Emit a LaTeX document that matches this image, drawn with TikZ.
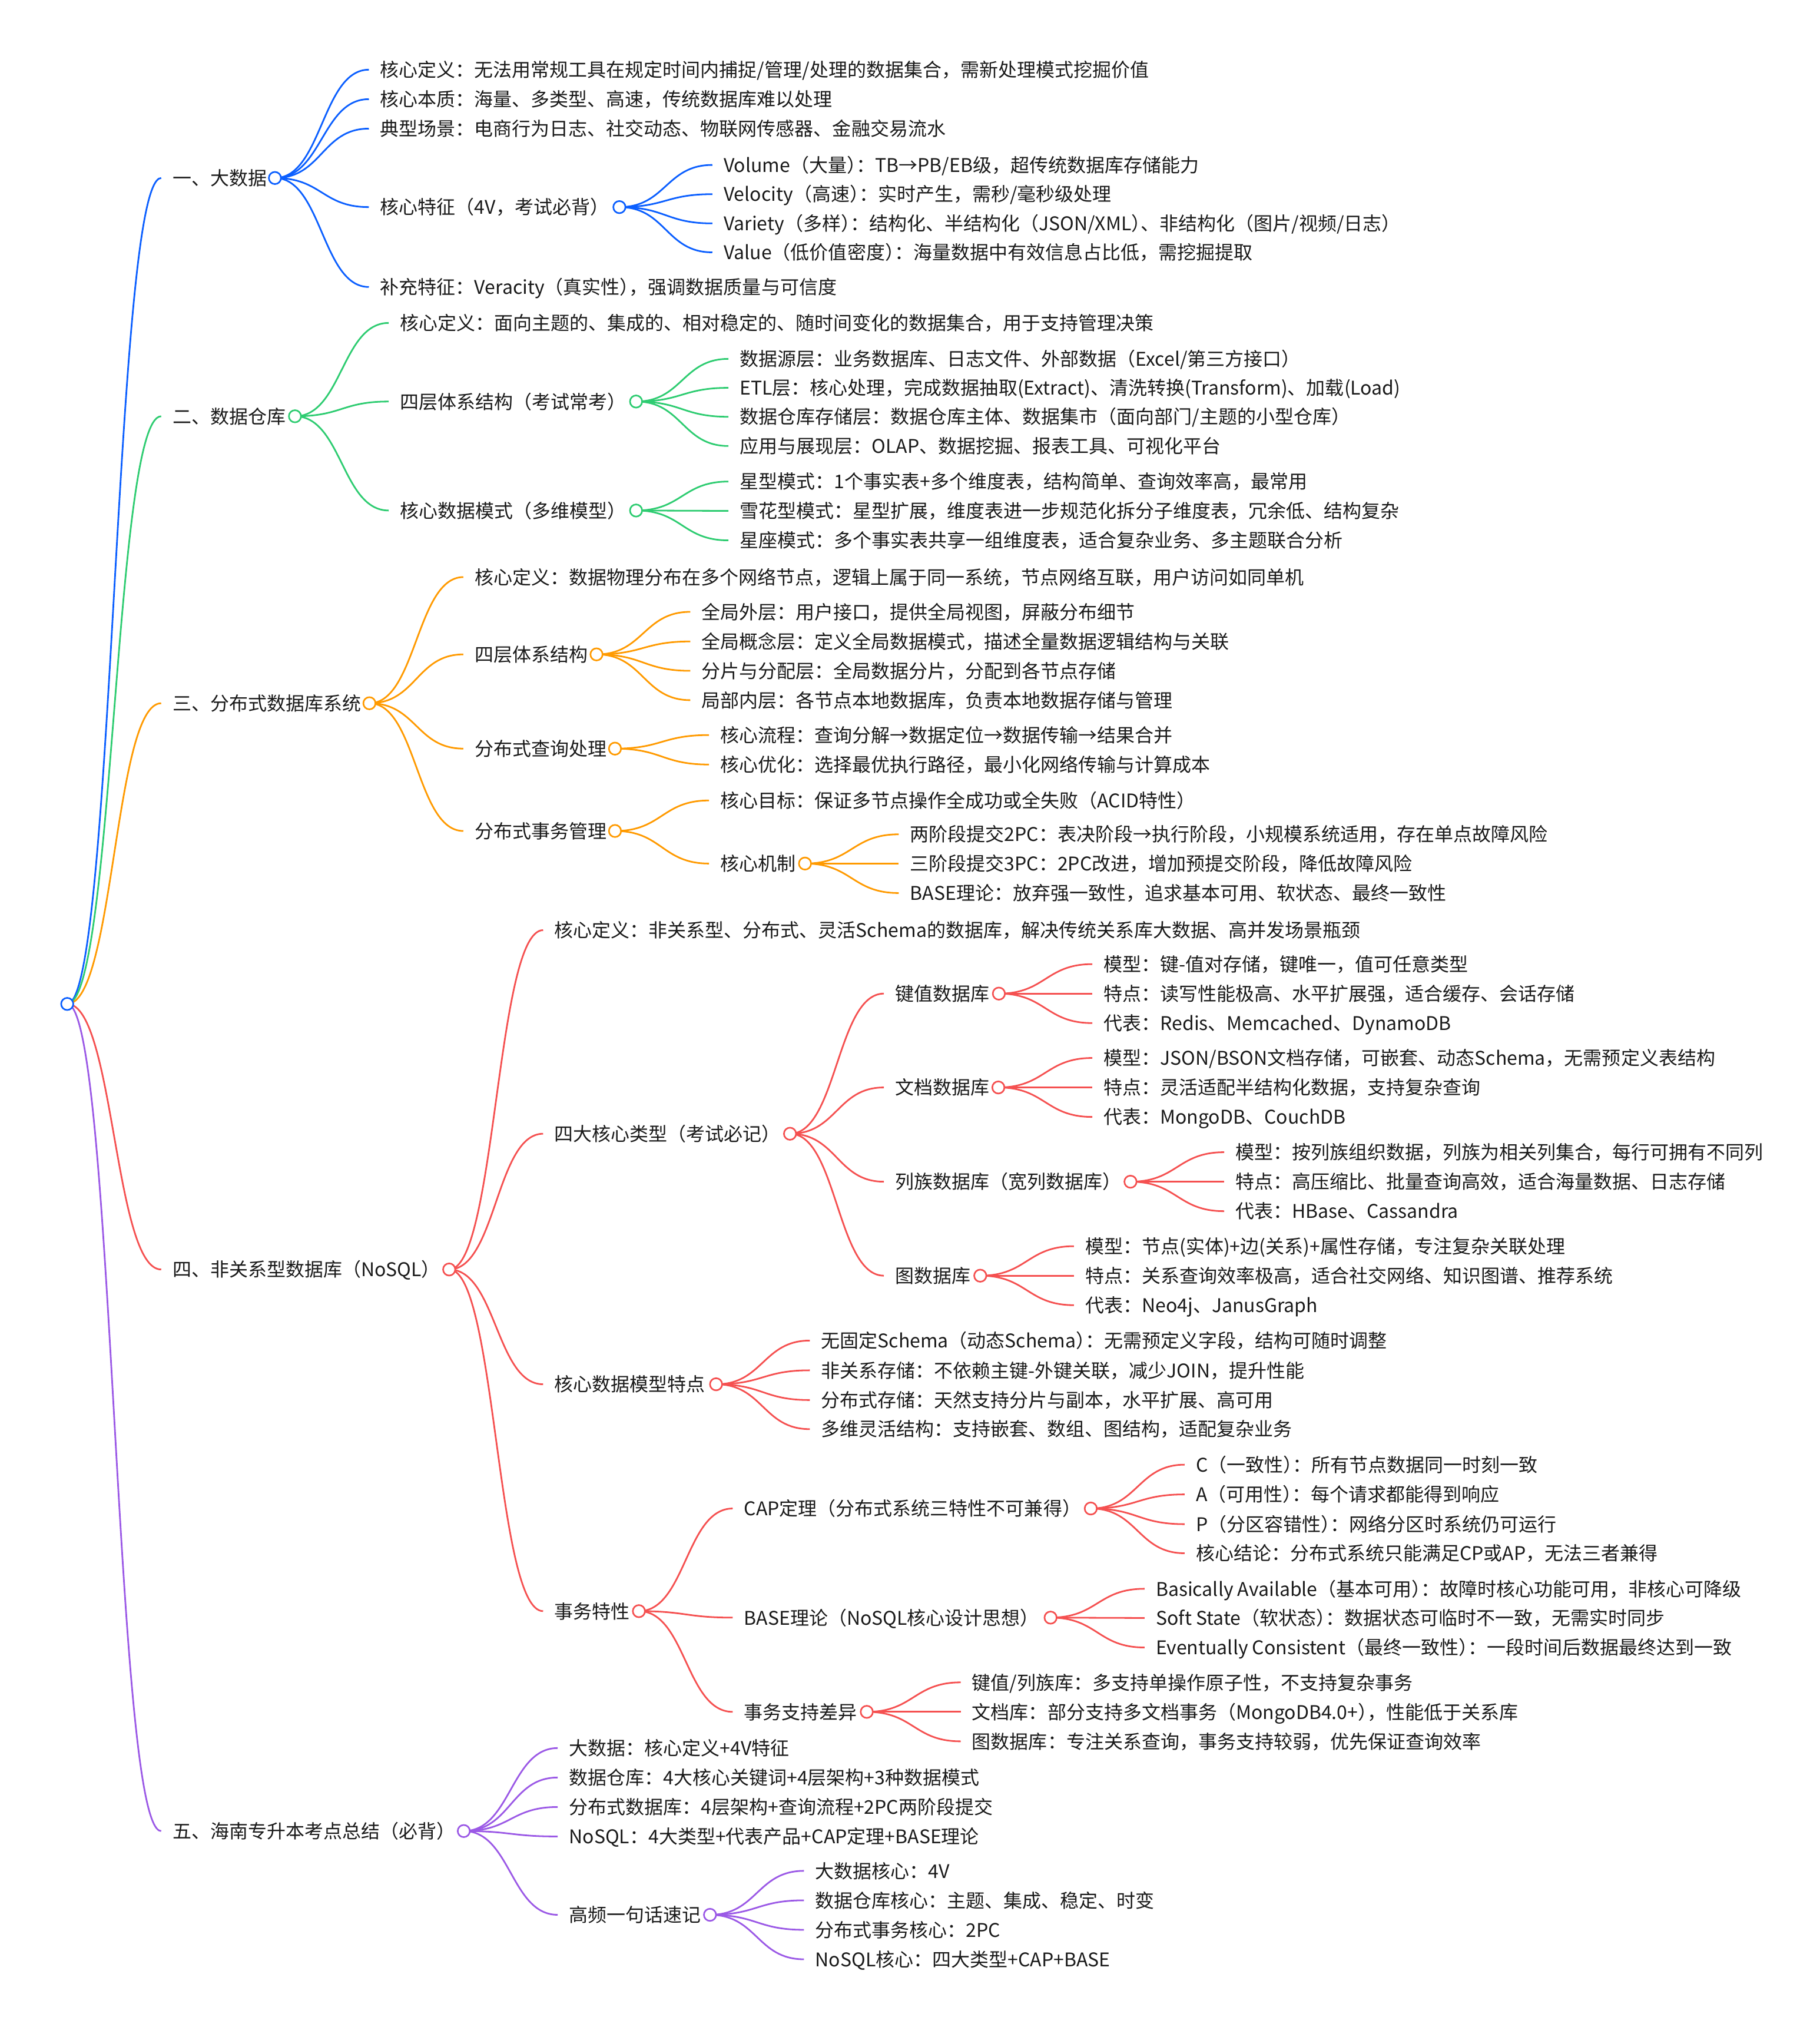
\documentclass[tikz,border=0pt]{standalone}
\usepackage{fontspec}
\setmainfont{Noto Sans CJK SC}
\usetikzlibrary{calc}
\definecolor{cb}{HTML}{0B5FFF}
\definecolor{cg}{HTML}{2ECC71}
\definecolor{co}{HTML}{FF9A00}
\definecolor{cr}{HTML}{F55050}
\definecolor{cp}{HTML}{9B59E6}
\definecolor{txt}{HTML}{1A1A1A}
\pgfdeclarelayer{bg}
\pgfsetlayers{bg,main}
\tikzset{
  txtnode/.style={anchor=west, inner sep=0pt, text height=28.2pt, text depth=3.8pt, text=txt, font=\fontsize{32}{38}\selectfont},
  bub/.style={circle, draw=#1, fill=white, line width=2.7pt, minimum size=20.6pt, inner sep=0pt},
  lk/.style={draw=#1, line width=2.8pt},
}
\newcommand\hk{\kern-0.5em}
\newcommand\mlink[3]{%
  \draw[lk=#1] let \p1=(#2.center), \p2=([xshift=-19.1pt]#3.west) in
    (\p1) .. controls ({0.5*\x1+0.5*\x2},\y1) and ({0.5*\x1+0.5*\x2},\y2) .. (\p2);}
\begin{document}
\begin{tikzpicture}[x=2.1946pt, y=-2.1946pt]
\useasboundingbox (0,0) rectangle (1408,1568);
% root
\node[bub=cb] (r) at (52,776.6) {};
% ---------- branch 1
\node[txtnode] (a) at (133.4,137.7) {一、大数据};
\node[bub=cb] (ac) at (212.7,137.7) {};
\node[txtnode] (a1) at (294.1,53.9) {核心定义：无法用常规工具在规定时间内捕捉/管理/处理的数据集合，需新处理模式挖掘价值};
\node[txtnode] (a2) at (294.1,76.7) {核心本质：海量、多类型、高速，传统数据库难以处理};
\node[txtnode] (a3) at (294.1,99.5) {典型场景：电商行为日志、社交动态、物联网传感器、金融交易流水};
\node[txtnode] (a4) at (294.1,160.2) {核心特征（4V，考试必背）};
\node[bub=cb] (a4c) at (479.2,160.2) {};
\node[txtnode] (a5) at (294.1,222) {补充特征：Veracity（真实性）\hk，强调数据质量与可信度};
\node[txtnode] (a41) at (559.8,127.6) {Volume（大量）\hk：TB→PB/EB级，超传统数据库存储能力};
\node[txtnode] (a42) at (559.8,150.2) {Velocity（高速）\hk：实时产生，需秒/毫秒级处理};
\node[txtnode] (a43) at (559.8,172.8) {Variety（多样）\hk：结构化、半结构化（JSON/XML）\hk、非结构化（图片/视频/日志）};
\node[txtnode] (a44) at (559.8,195.2) {Value（低价值密度）\hk：海量数据中有效信息占比低，需挖掘提取};
% ---------- branch 2
\node[txtnode] (b) at (133.4,322) {二、数据仓库};
\node[bub=cg] (bc) at (228.2,322) {};
\node[txtnode] (b1) at (309.4,249.8) {核心定义：面向主题的、集成的、相对稳定的、随时间变化的数据集合，用于支持管理决策};
\node[txtnode] (b2) at (309.4,310.6) {四层体系结构（考试常考）};
\node[bub=cg] (b2c) at (492.1,310.6) {};
\node[txtnode] (b3) at (309.4,394.9) {核心数据模式（多维模型）};
\node[bub=cg] (b3c) at (492.1,394.9) {};
\node[txtnode] (b21) at (572.3,277.6) {数据源层：业务数据库、日志文件、外部数据（Excel/第三方接口）};
\node[txtnode] (b22) at (572.3,300) {ETL层：核心处理，完成数据抽取(Extract)、清洗转换(Transform)、加载(Load)};
\node[txtnode] (b23) at (572.3,322.4) {数据仓库存储层：数据仓库主体、数据集市（面向部门/主题的小型仓库）};
\node[txtnode] (b24) at (572.3,345) {应用与展现层：OLAP、数据挖掘、报表工具、可视化平台};
\node[txtnode] (b31) at (572.3,372.5) {星型模式：1个事实表+多个维度表，结构简单、查询效率高，最常用};
\node[txtnode] (b32) at (572.3,395.2) {雪花型模式：星型扩展，维度表进一步规范化拆分子维度表，冗余低、结构复杂};
\node[txtnode] (b33) at (572.3,418) {星座模式：多个事实表共享一组维度表，适合复杂业务、多主题联合分析};
% ---------- branch 3
\node[txtnode] (c) at (133.4,544) {三、分布式数据库系统};
\node[bub=co] (cc) at (285.8,544) {};
\node[txtnode] (c1) at (367.2,446.4) {核心定义：数据物理分布在多个网络节点，逻辑上属于同一系统，节点网络互联，用户访问如同单机};
\node[txtnode] (c2) at (367.2,506.2) {四层体系结构};
\node[bub=co] (c2c) at (461.5,506.2) {};
\node[txtnode] (c3) at (367.2,579.1) {分布式查询处理};
\node[bub=co] (c3c) at (475.8,579.1) {};
\node[txtnode] (c4) at (367.2,642.8) {分布式事务管理};
\node[bub=co] (c4c) at (475.8,642.8) {};
\node[txtnode] (c21) at (542.8,473.3) {全局外层：用户接口，提供全局视图，屏蔽分布细节};
\node[txtnode] (c22) at (542.8,496.2) {全局概念层：定义全局数据模式，描述全量数据逻辑结构与关联};
\node[txtnode] (c23) at (542.8,518.9) {分片与分配层：全局数据分片，分配到各节点存储};
\node[txtnode] (c24) at (542.8,541.6) {局部内层：各节点本地数据库，负责本地数据存储与管理};
\node[txtnode] (c31) at (557.2,568.6) {核心流程：查询分解→数据定位→数据传输→结果合并};
\node[txtnode] (c32) at (557.2,591.4) {核心优化：选择最优执行路径，最小化网络传输与计算成本};
\node[txtnode] (c41) at (557.2,619.2) {核心目标：保证多节点操作全成功或全失败（ACID特性）};
\node[txtnode] (c42) at (557.2,668) {核心机制};
\node[bub=co] (c42c) at (622.8,668) {};
\node[txtnode] (c421) at (704,645.4) {两阶段提交2PC：表决阶段→执行阶段，小规模系统适用，存在单点故障风险};
\node[txtnode] (c422) at (704,668) {三阶段提交3PC：2PC改进，增加预提交阶段，降低故障风险};
\node[txtnode] (c423) at (704,690.8) {BASE理论：放弃强一致性，追求基本可用、软状态、最终一致性};
% ---------- branch 4
\node[txtnode] (d) at (133.4,982) {四、非关系型数据库（NoSQL）};
\node[bub=cr] (dc) at (347.5,982) {};
\node[txtnode] (d1) at (428.9,719.5) {核心定义：非关系型、分布式、灵活Schema的数据库，解决传统关系库大数据、高并发场景瓶颈};
\node[txtnode] (d2) at (428.9,877) {四大核心类型（考试必记）};
\node[bub=cr] (d2c) at (611.2,877) {};
\node[txtnode] (d3) at (428.9,1070.8) {核心数据模型特点};
\node[bub=cr] (d3c) at (554,1070.8) {};
\node[txtnode] (d4) at (428.9,1246.3) {事务特性};
\node[bub=cr] (d4c) at (494.3,1246.3) {};
\node[txtnode] (d21) at (692.5,768.6) {键值数据库};
\node[bub=cr] (d21c) at (772.8,768.6) {};
\node[txtnode] (d22) at (692.5,841.2) {文档数据库};
\node[bub=cr] (d22c) at (772.4,841.2) {};
\node[txtnode] (d23) at (692.5,914.1) {列族数据库（宽列数据库）};
\node[bub=cr] (d23c) at (874.6,914.1) {};
\node[txtnode] (d24) at (692.5,986.8) {图数据库};
\node[bub=cr] (d24c) at (758.4,986.8) {};
\node[txtnode] (d211) at (853.8,745.8) {模型：键-值对存储，键唯一，值可任意类型};
\node[txtnode] (d212) at (853.8,768.6) {特点：读写性能极高、水平扩展强，适合缓存、会话存储};
\node[txtnode] (d213) at (853.8,791.4) {代表：Redis、Memcached、DynamoDB};
\node[txtnode] (d221) at (853.8,818.4) {模型：JSON/BSON文档存储，可嵌套、动态Schema，无需预定义表结构};
\node[txtnode] (d222) at (853.8,841.2) {特点：灵活适配半结构化数据，支持复杂查询};
\node[txtnode] (d223) at (853.8,864) {代表：MongoDB、CouchDB};
\node[txtnode] (d231) at (955.8,891.3) {模型：按列族组织数据，列族为相关列集合，每行可拥有不同列};
\node[txtnode] (d232) at (955.8,914.1) {特点：高压缩比、批量查询高效，适合海量数据、日志存储};
\node[txtnode] (d233) at (955.8,936.9) {代表：HBase、Cassandra};
\node[txtnode] (d241) at (839.6,964) {模型：节点(实体)+边(关系)+属性存储，专注复杂关联处理};
\node[txtnode] (d242) at (839.6,986.8) {特点：关系查询效率极高，适合社交网络、知识图谱、推荐系统};
\node[txtnode] (d243) at (839.6,1009.6) {代表：Neo4j、JanusGraph};
\node[txtnode] (d31) at (635.2,1037) {无固定Schema（动态Schema）\hk：无需预定义字段，结构可随时调整};
\node[txtnode] (d32) at (635.2,1060) {非关系存储：不依赖主键-外键关联，减少JOIN，提升性能};
\node[txtnode] (d33) at (635.2,1083) {分布式存储：天然支持分片与副本，水平扩展、高可用};
\node[txtnode] (d34) at (635.2,1105.5) {多维灵活结构：支持嵌套、数组、图结构，适配复杂业务};
\node[txtnode] (d41) at (575.6,1166.9) {CAP定理（分布式系统三特性不可兼得）};
\node[bub=cr] (d41c) at (843.9,1166.9) {};
\node[txtnode] (d42) at (575.6,1251.3) {BASE理论（NoSQL核心设计思想）};
\node[bub=cr] (d42c) at (812.8,1251.3) {};
\node[txtnode] (d43) at (575.6,1324.2) {事务支持差异};
\node[bub=cr] (d43c) at (670.6,1324.2) {};
\node[txtnode] (d411) at (925.2,1133) {C（一致性）\hk：所有节点数据同一时刻一致};
\node[txtnode] (d412) at (925.2,1156) {A（可用性）\hk：每个请求都能得到响应};
\node[txtnode] (d413) at (925.2,1179) {P（分区容错性）\hk：网络分区时系统仍可运行};
\node[txtnode] (d414) at (925.2,1201.5) {核心结论：分布式系统只能满足CP或AP，无法三者兼得};
\node[txtnode] (d421) at (894.2,1229) {Basically Available（基本可用）\hk：故障时核心功能可用，非核心可降级};
\node[txtnode] (d422) at (894.2,1251.6) {Soft State（软状态）\hk：数据状态可临时不一致，无需实时同步};
\node[txtnode] (d423) at (894.2,1274.4) {Eventually Consistent（最终一致性）\hk：一段时间后数据最终达到一致};
\node[txtnode] (d431) at (752,1301.4) {键值/列族库：多支持单操作原子性，不支持复杂事务};
\node[txtnode] (d432) at (752,1324.2) {文档库：部分支持多文档事务（MongoDB4.0+）\hk，性能低于关系库};
\node[txtnode] (d433) at (752,1347) {图数据库：专注关系查询，事务支持较弱，优先保证查询效率};
% ---------- branch 5
\node[txtnode] (e) at (133.4,1416.4) {五、海南专升本考点总结（必背）};
\node[bub=cp] (ec) at (358.8,1416.4) {};
\node[txtnode] (e1) at (440.2,1352.2) {大数据：核心定义+4V特征};
\node[txtnode] (e2) at (440.2,1375) {数据仓库：4大核心关键词+4层架构+3种数据模式};
\node[txtnode] (e3) at (440.2,1397.8) {分布式数据库：4层架构+查询流程+2PC两阶段提交};
\node[txtnode] (e4) at (440.2,1420.6) {NoSQL：4大类型+代表产品+CAP定理+BASE理论};
\node[txtnode] (e5) at (440.2,1481.2) {高频一句话速记};
\node[bub=cp] (e5c) at (549.3,1481.2) {};
\node[txtnode] (e51) at (630.7,1447.2) {大数据核心：4V};
\node[txtnode] (e52) at (630.7,1470) {数据仓库核心：主题、集成、稳定、时变};
\node[txtnode] (e53) at (630.7,1492.8) {分布式事务核心：2PC};
\node[txtnode] (e54) at (630.7,1515.6) {NoSQL核心：四大类型+CAP+BASE};
% ---------- links
\begin{pgfonlayer}{bg}
\fill[white] (0,0) rectangle (1408,1568);
\mlink{cb}{r}{a}
\mlink{cg}{r}{b}
\mlink{co}{r}{c}
\mlink{cr}{r}{d}
\mlink{cp}{r}{e}
\foreach \pa/\ch in {ac/a1,ac/a2,ac/a3,ac/a4,ac/a5,a4c/a41,a4c/a42,a4c/a43,a4c/a44}
  {\mlink{cb}{\pa}{\ch}}
\foreach \pa/\ch in {bc/b1,bc/b2,bc/b3,b2c/b21,b2c/b22,b2c/b23,b2c/b24,b3c/b31,b3c/b32,b3c/b33}
  {\mlink{cg}{\pa}{\ch}}
\foreach \pa/\ch in {cc/c1,cc/c2,cc/c3,cc/c4,c2c/c21,c2c/c22,c2c/c23,c2c/c24,c3c/c31,c3c/c32,c4c/c41,c4c/c42,c42c/c421,c42c/c422,c42c/c423}
  {\mlink{co}{\pa}{\ch}}
\foreach \pa/\ch in {dc/d1,dc/d2,dc/d3,dc/d4,d2c/d21,d2c/d22,d2c/d23,d2c/d24,d21c/d211,d21c/d212,d21c/d213,d22c/d221,d22c/d222,d22c/d223,d23c/d231,d23c/d232,d23c/d233,d24c/d241,d24c/d242,d24c/d243,d3c/d31,d3c/d32,d3c/d33,d3c/d34,d4c/d41,d4c/d42,d4c/d43,d41c/d411,d41c/d412,d41c/d413,d41c/d414,d42c/d421,d42c/d422,d42c/d423,d43c/d431,d43c/d432,d43c/d433}
  {\mlink{cr}{\pa}{\ch}}
\foreach \pa/\ch in {ec/e1,ec/e2,ec/e3,ec/e4,ec/e5,e5c/e51,e5c/e52,e5c/e53,e5c/e54}
  {\mlink{cp}{\pa}{\ch}}
\end{pgfonlayer}
\end{tikzpicture}
\end{document}
